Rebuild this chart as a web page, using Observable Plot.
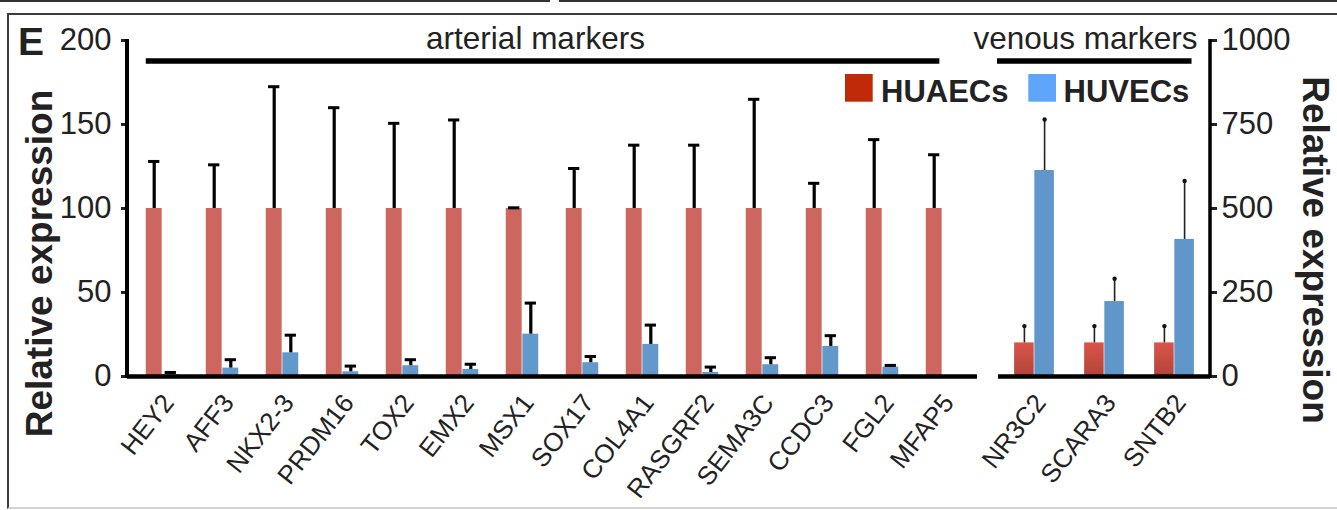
<!DOCTYPE html>
<html><head><meta charset="utf-8">
<script src="https://cdn.jsdelivr.net/npm/d3@7"></script>
<script src="https://cdn.jsdelivr.net/npm/@observablehq/plot@0.6"></script>
<style>
html,body{margin:0;padding:0;background:#fff;}
#wrap{position:relative;width:1337px;height:510px;overflow:hidden;font-family:"Liberation Sans",Arial,Helvetica,sans-serif;}
#wrap svg{position:absolute;left:0;top:0;overflow:visible;background:transparent;}
#box{position:absolute;left:7px;top:13px;width:1400px;height:492px;border:2px solid #3c3c3c;border-bottom:2px solid #d4d4d4;}
.topline{position:absolute;top:0;height:2px;background:#333;}
</style></head>
<body><div id="wrap"><div id="box"></div><div class="topline" style="left:0;width:550px"></div><div class="topline" style="left:559px;width:800px"></div></div>
<script>
// ---------- data ----------
const arterialGenes = ["HEY2","AFF3","NKX2-3","PRDM16","TOX2","EMX2","MSX1","SOX17","COL4A1","RASGRF2","SEMA3C","CCDC3","FGL2","MFAP5"];
const arterialHUAEC    = [100,100,100,100,100,100,100,100,100,100,100,100,100,100];
const arterialHUAECErr = [28,26,72.5,60,50.7,52.7,0.4,23.8,37.7,37.7,65,15,41,32];
const arterialHUVEC    = [1.2,5,14.1,2.8,6.4,4.2,25.2,8.2,19.1,2.4,7,17.9,5.6,0];
const arterialHUVECErr = [1.2,5,10.5,3.4,3.6,3.1,18.5,3.7,11.5,3.2,4.2,6.4,1,0];
const venousGenes = ["NR3C2","SCARA3","SNTB2"];
const venousHUAEC    = [100,100,100];
const venousHUAECErr = [50,50,50];
const venousHUVEC    = [613,223,408];
const venousHUVECErr = [152,68,174];
const leftTicks  = [0,50,100,150,200];
const rightTicks = [0,250,500,750,1000];
const seriesNames = ["HUAECs","HUVECs"];
const groupLabels = ["arterial markers","venous markers"];
const axisTitle = "Relative expression";
const panelLetter = "E";

// ---------- styles ----------
const W = 1337, H = 510, MT = 40, MB = 134;
const FONT = "Liberation Sans, Arial, Helvetica, sans-serif";
const redL = "#cd665f", blueL = "#6398cb", blueR = "#6096ca";
const legendRed = "#c02a08", legendBlue = "#5fa5fb";
const LABEL_ROT = -52, LABEL_SIZE = 26, LABEL_DX = 6, LABEL_DY = 21.5;

function rows(genes, a, ae, b, be) {
  return genes.flatMap((g, i) => [
    {gene: g, series: seriesNames[0], value: a[i], err: ae[i]},
    {gene: g, series: seriesNames[1], value: b[i], err: be[i]}
  ]);
}
const artRows = rows(arterialGenes, arterialHUAEC, arterialHUAECErr, arterialHUVEC, arterialHUVECErr);
const venRows = rows(venousGenes, venousHUAEC, venousHUAECErr, venousHUVEC, venousHUVECErr);

function common(ml, mr) {
  return {width: W, height: H, marginLeft: ml, marginRight: mr, marginTop: MT, marginBottom: MB,
    style: {background: "transparent", fontFamily: FONT, color: "#222", overflow: "visible"}};
}
function geneLabels(genes) {
  return Plot.text(genes, {x: d => d, frameAnchor: "bottom", text: d => d, rotate: LABEL_ROT,
    textAnchor: "end", lineAnchor: "middle", fontSize: LABEL_SIZE, dx: LABEL_DX, dy: LABEL_DY, fill: "#222"});
}

// ---------- left (arterial) panel ----------
const mlL = 127, mrL = W - 977;
const bwL = (W - mlL - mrL) / arterialGenes.length;
const barWL = 16.6, capW = 12;
const aRed = artRows.filter(d => d.series === seriesNames[0]);
const aBlue = artRows.filter(d => d.series === seriesNames[1]);
const leftPlot = Plot.plot({
  ...common(mlL, mrL),
  x: {domain: arterialGenes, padding: 0, axis: null},
  y: {domain: [0, 200], axis: null},
  marks: [
    Plot.barY(aRed, {x: "gene", y: "value", fill: redL, insetLeft: bwL / 2 - barWL, insetRight: bwL / 2}),
    Plot.barY(aBlue, {x: "gene", y: "value", fill: blueL, insetLeft: bwL / 2, insetRight: bwL / 2 - barWL}),
    Plot.ruleX(aRed, {x: "gene", y1: "value", y2: d => d.value + d.err, dx: -barWL / 2, stroke: "#000", strokeWidth: 3.2}),
    Plot.tickY(aRed, {x: "gene", y: d => d.value + d.err, dx: -barWL / 2, insetLeft: (bwL - capW) / 2, insetRight: (bwL - capW) / 2, stroke: "#000", strokeWidth: 3}),
    Plot.ruleX(aBlue.filter(d => d.value > 0), {x: "gene", y1: "value", y2: d => d.value + d.err, dx: barWL / 2, stroke: "#000", strokeWidth: 3.2}),
    Plot.tickY(aBlue.filter(d => d.value > 0), {x: "gene", y: d => d.value + d.err, dx: barWL / 2, insetLeft: (bwL - capW) / 2, insetRight: (bwL - capW) / 2, stroke: "#000", strokeWidth: 3}),
    Plot.ruleY([0], {stroke: "#000", strokeWidth: 4.5}),
    Plot.axisY({ticks: leftTicks, tickSize: 6, tickPadding: 10, fontSize: 31, strokeWidth: 3, label: null, anchor: "left", tickFormat: d => String(d)}),
    geneLabels(arterialGenes)
  ]
});

// ---------- right (venous) panel ----------
const mlR = 998, mrR = W - 1210;
const bwR = (W - mlR - mrR) / venousGenes.length;
const barWR = 20.2;
const vRed = venRows.filter(d => d.series === seriesNames[0]);
const vBlue = venRows.filter(d => d.series === seriesNames[1]);
const rightPlot = Plot.plot({
  ...common(mlR, mrR),
  x: {domain: venousGenes, padding: 0, axis: null},
  y: {domain: [0, 1000], axis: null},
  marks: [
    Plot.barY(vRed, {x: "gene", y: "value", fill: "url(#redGrad)", insetLeft: bwR / 2 - barWR, insetRight: bwR / 2}),
    Plot.barY(vBlue, {x: "gene", y: "value", fill: blueR, insetLeft: bwR / 2, insetRight: bwR / 2 - barWR}),
    Plot.ruleX(vRed, {x: "gene", y1: "value", y2: d => d.value + d.err, dx: -barWR / 2, stroke: "#222", strokeWidth: 1.6}),
    Plot.dot(vRed, {x: "gene", y: d => d.value + d.err, dx: -barWR / 2, r: 2.2, fill: "#111", stroke: "none"}),
    Plot.ruleX(vBlue, {x: "gene", y1: "value", y2: d => d.value + d.err, dx: barWR / 2, stroke: "#222", strokeWidth: 1.6}),
    Plot.dot(vBlue, {x: "gene", y: d => d.value + d.err, dx: barWR / 2, r: 2.2, fill: "#111", stroke: "none"}),
    Plot.ruleY([0], {stroke: "#000", strokeWidth: 4.5}),
    Plot.axisY({ticks: rightTicks, tickSize: 6, tickPadding: 5, fontSize: 31, strokeWidth: 3, label: null, anchor: "right", tickFormat: d => String(d)}),
    geneLabels(venousGenes)
  ]
});

// gradient for right red bars
const defs = d3.select(rightPlot).insert("defs", ":first-child");
const g = defs.append("linearGradient").attr("id", "redGrad").attr("x1", 0).attr("y1", 0).attr("x2", 0).attr("y2", 1);
g.append("stop").attr("offset", "0%").attr("stop-color", "#da544a");
g.append("stop").attr("offset", "100%").attr("stop-color", "#b1443a");

// axis lines drawn from the library scales
{
  const y = leftPlot.scale("y");
  d3.select(leftPlot).append("line").attr("x1", mlL).attr("x2", mlL)
    .attr("y1", y.apply(0) + 2).attr("y2", y.apply(200) - 1).attr("stroke", "#000").attr("stroke-width", 4);
  const yr = rightPlot.scale("y");
  d3.select(rightPlot).append("line").attr("x1", W - mrR).attr("x2", W - mrR)
    .attr("y1", yr.apply(0) + 2).attr("y2", yr.apply(1000) - 1).attr("stroke", "#000").attr("stroke-width", 3.5);
}

const wrap = document.getElementById("wrap");
wrap.appendChild(leftPlot);
wrap.appendChild(rightPlot);

// ---------- annotations overlay ----------
const xL = leftPlot.scale("x"), xR = rightPlot.scale("x");
const ov = d3.create("svg").attr("width", W).attr("height", H)
  .style("font-family", FONT);
ov.append("text").attr("x", 18).attr("y", 55).attr("font-size", 39).attr("font-weight", "bold").attr("fill", "#222").text(panelLetter);

const artX1 = xL.apply(arterialGenes[0]) + bwL / 2 - barWL;
const artX2 = xL.apply(arterialGenes[arterialGenes.length - 1]) + bwL / 2 - 3;
const venX1 = xR.apply(venousGenes[0]) - 2;
const venX2 = xR.apply(venousGenes[venousGenes.length - 1]) + bwR / 2 + barWR - 3;
ov.append("line").attr("x1", artX1).attr("x2", artX2).attr("y1", 61).attr("y2", 61).attr("stroke", "#000").attr("stroke-width", 5.5);
ov.append("line").attr("x1", venX1).attr("x2", venX2).attr("y1", 61).attr("y2", 61).attr("stroke", "#000").attr("stroke-width", 5.5);
ov.append("text").attr("x", 535.5).attr("y", 48.5).attr("text-anchor", "middle").attr("font-size", 31.5).attr("fill", "#222").text(groupLabels[0]);
ov.append("text").attr("x", 1085.5).attr("y", 48.5).attr("text-anchor", "middle").attr("font-size", 31.5).attr("fill", "#222").text(groupLabels[1]);

// legend
ov.append("rect").attr("x", 845).attr("y", 74).attr("width", 27.7).attr("height", 27.7).attr("fill", legendRed);
ov.append("text").attr("x", 881).attr("y", 101.5).attr("font-size", 31).attr("font-weight", "bold").attr("fill", "#222").text(seriesNames[0]);
ov.append("rect").attr("x", 1028.3).attr("y", 74).attr("width", 27.7).attr("height", 27.7).attr("fill", legendBlue);
ov.append("text").attr("x", 1063.5).attr("y", 101.5).attr("font-size", 31).attr("font-weight", "bold").attr("fill", "#222").text(seriesNames[1]);

// axis titles
ov.append("text").attr("transform", "translate(51.5,263.5) rotate(-90)").attr("text-anchor", "middle")
  .attr("font-size", 37).attr("font-weight", "bold").attr("fill", "#222").text(axisTitle);
ov.append("text").attr("transform", "translate(1303,250) rotate(90)").attr("text-anchor", "middle")
  .attr("font-size", 37).attr("font-weight", "bold").attr("fill", "#222").text(axisTitle);

wrap.appendChild(ov.node());
</script></body></html>
